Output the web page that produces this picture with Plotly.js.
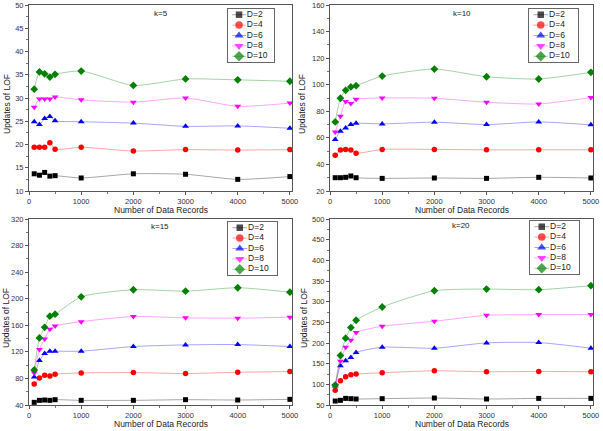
<!DOCTYPE html>
<html>
<head>
<meta charset="utf-8">
<script src="https://cdn.plot.ly/plotly-3.0.1.min.js"></script>
<style>html,body{margin:0;padding:0;background:#fff;}#chart{width:603px;height:431px;}</style>
</head>
<body>
<div id="chart"></div>
<script>
// ---- data ----
const records = [100, 200, 300, 400, 500, 1000, 2000, 3000, 4000, 5000];
const seriesNames = ["D=2", "D=4", "D=6", "D=8", "D=10"];
const panelTitles = ["k=5", "k=10", "k=15", "k=20"];

const k5_D2  = [13.7, 13.4, 14.0, 13.2, 13.3, 12.8, 13.7, 13.6, 12.5, 13.1];
const k5_D4  = [19.4, 19.4, 19.4, 20.4, 19.0, 19.4, 18.6, 18.9, 18.8, 18.9];
const k5_D6  = [24.9, 24.3, 25.6, 26.0, 25.1, 24.9, 24.6, 23.9, 24.0, 23.5];
const k5_D8  = [28.0, 29.8, 29.8, 29.8, 30.2, 29.6, 29.1, 30.0, 28.2, 28.9];
const k5_D10 = [31.9, 35.6, 35.2, 34.5, 35.1, 35.8, 32.7, 34.1, 33.9, 33.6];

const k10_D2  = [30.0, 30.0, 30.3, 31.3, 30.0, 29.5, 29.8, 29.5, 30.3, 29.8];
const k10_D4  = [47.0, 50.8, 51.3, 50.8, 48.5, 51.3, 51.3, 51.0, 51.0, 51.0];
const k10_D6  = [58.8, 65.0, 67.5, 70.0, 71.0, 70.5, 71.8, 70.0, 72.0, 69.8];
const k10_D8  = [64.5, 76.3, 87.3, 85.8, 89.0, 90.0, 89.8, 86.8, 85.5, 90.3];
const k10_D10 = [72.0, 89.8, 95.8, 98.3, 99.3, 106.5, 111.8, 106.0, 104.3, 109.3];

const k15_D2  = [44.0, 47.0, 47.5, 47.0, 48.0, 47.0, 47.0, 48.0, 47.5, 48.5];
const k15_D4  = [71.7, 80.7, 84.7, 83.7, 86.3, 88.3, 88.8, 87.3, 89.3, 90.3];
const k15_D6  = [82.2, 106.9, 117.4, 121.0, 121.0, 121.0, 128.0, 130.5, 131.0, 128.0];
const k15_D8  = [88.3, 123.5, 139.5, 154.0, 159.0, 165.5, 173.2, 171.2, 170.7, 172.2];
const k15_D10 = [92.8, 141.0, 157.0, 173.7, 176.7, 202.9, 213.5, 211.4, 216.5, 209.9];

const k20_D2  = [59.6, 61.3, 66.0, 65.3, 64.5, 65.3, 66.9, 64.5, 66.0, 66.0];
const k20_D4  = [85.4, 108.7, 118.3, 123.2, 124.8, 128.0, 132.8, 130.4, 131.2, 130.4];
const k20_D6  = [95.8, 144.8, 156.9, 164.9, 177.0, 189.8, 187.4, 200.3, 201.1, 187.4];
const k20_D8  = [96.6, 156.0, 189.8, 206.7, 225.2, 240.5, 252.6, 267.0, 268.7, 268.7];
const k20_D10 = [98.2, 169.8, 211.6, 237.3, 255.0, 287.1, 326.5, 330.5, 328.9, 338.6];

const yRanges = [[10, 50], [20, 160], [40, 320], [50, 500]];
const yDticks = [5, 20, 40, 50];

// ---- styles ----
const markerColors = ["#000000", "#ff0000", "#0000ff", "#ff00ff", "#008000"];
const lineColors = ["rgba(0,0,0,0.35)", "rgba(255,0,0,0.35)", "rgba(0,0,255,0.35)", "rgba(255,0,255,0.35)", "rgba(0,128,0,0.35)"];
const symbols = ["square", "circle", "triangle-up", "triangle-down", "diamond"];
const markerSizes = [5, 5.5, 6, 6, 6];
const legendMarkerSizes = [6.5, 7.5, 8, 8, 8];

const panelData = [
  [k5_D2, k5_D4, k5_D6, k5_D8, k5_D10],
  [k10_D2, k10_D4, k10_D6, k10_D8, k10_D10],
  [k15_D2, k15_D4, k15_D6, k15_D8, k15_D10],
  [k20_D2, k20_D4, k20_D6, k20_D8, k20_D10]
];

const W = 603, H = 431;
const px = v => v / W;
const py = v => 1 - v / H;

// plot boxes in pixels [left, right, top, bottom]
const boxes = [[29, 292, 5, 191], [330, 593, 5, 191], [29, 292, 219, 405], [330, 593, 219, 405]];
// legend boxes in pixels [left, right, top, bottom]
const legBoxes = [[228, 274, 9, 62], [529, 578, 9, 62], [228, 277, 222, 275], [530, 579, 221, 274]];
const kPos = [[161, 14], [462, 14], [160, 227], [461, 225]];
const xTitlePos = [[161, 210], [462, 210], [161, 424], [462, 424]];
const yTitlePos = [[7, 104], [302, 104], [6, 318], [304, 318]];

const tickFont = {family: "Liberation Sans, Arial, sans-serif", size: 7.5, color: "#333"};
const titleFont = {family: "Liberation Sans, Arial, sans-serif", size: 8.5, color: "#222"};

const traces = [];
const layout = {
  width: W, height: H,
  margin: {l: 0, r: 0, t: 0, b: 0},
  paper_bgcolor: "#fff", plot_bgcolor: "#fff",
  showlegend: false,
  annotations: [],
  font: {family: "Liberation Sans, Arial, sans-serif"}
};

for (let p = 0; p < 4; p++) {
  const ax = p + 1;
  const xa = "x" + (ax === 1 ? "" : ax), ya = "y" + (ax === 1 ? "" : ax);
  const b = boxes[p];
  layout["xaxis" + (ax === 1 ? "" : ax)] = {
    domain: [px(b[0]), px(b[1])], anchor: ya,
    range: [0, 5040], tickvals: [0, 1000, 2000, 3000, 4000, 5000],
    ticks: "outside", ticklen: 3, tickcolor: "#555", tickwidth: 1,
    minor: {dtick: 500, tick0: 0, ticks: "outside", ticklen: 2, tickcolor: "#777"},
    showgrid: false, zeroline: false, showline: true, mirror: true,
    linecolor: "#555", linewidth: 1, tickfont: tickFont, fixedrange: true
  };
  layout["yaxis" + (ax === 1 ? "" : ax)] = {
    domain: [py(b[3]), py(b[2])], anchor: xa,
    range: yRanges[p], dtick: yDticks[p], tick0: yRanges[p][0],
    ticks: "outside", ticklen: 3, tickcolor: "#555", tickwidth: 1,
    minor: {dtick: yDticks[p] / 2, ticks: "outside", ticklen: 2, tickcolor: "#777"},
    showgrid: false, zeroline: false, showline: true, mirror: true,
    linecolor: "#555", linewidth: 1, tickfont: tickFont, fixedrange: true
  };
  for (let s = 0; s < 5; s++) {
    traces.push({
      type: "scatter", mode: "lines+markers",
      x: records, y: panelData[p][s], name: seriesNames[s],
      xaxis: xa, yaxis: ya,
      line: {color: lineColors[s], width: 1, shape: "spline", smoothing: 0.6},
      marker: {symbol: symbols[s], size: markerSizes[s], color: markerColors[s], line: {width: 0}}
    });
  }
  // custom legend on its own axes
  const lx = p + 5;
  const lb = legBoxes[p];
  layout["xaxis" + lx] = {
    domain: [px(lb[0]), px(lb[1])], anchor: "y" + lx, range: [0, 1],
    showline: true, mirror: true, linecolor: "#666", linewidth: 1,
    showticklabels: false, ticks: "", showgrid: false, zeroline: false, fixedrange: true
  };
  layout["yaxis" + lx] = {
    domain: [py(lb[3]), py(lb[2])], anchor: "x" + lx, range: [4.55, -0.55],
    showline: true, mirror: true, linecolor: "#666", linewidth: 1,
    showticklabels: false, ticks: "", showgrid: false, zeroline: false, fixedrange: true
  };
  const sampleX = [0.09, 0.24, 0.39];
  for (let s = 0; s < 5; s++) {
    traces.push({
      type: "scatter", mode: "lines+markers", hoverinfo: "skip",
      x: sampleX, y: [s, s, s], xaxis: "x" + lx, yaxis: "y" + lx,
      line: {color: lineColors[s], width: 1},
      marker: {symbol: symbols[s], size: [0, legendMarkerSizes[s], 0], color: markerColors[s], line: {width: 0}}
    });
  }
  traces.push({
    type: "scatter", mode: "text", hoverinfo: "skip",
    x: seriesNames.map(() => 0.41), y: seriesNames.map((_, i) => i),
    text: seriesNames, textposition: "middle right",
    textfont: {family: "Liberation Sans, Arial, sans-serif", size: 8.5, color: "#222"},
    xaxis: "x" + lx, yaxis: "y" + lx, cliponaxis: false
  });

  layout.annotations.push({
    text: panelTitles[p], xref: "paper", yref: "paper",
    x: px(kPos[p][0]), y: py(kPos[p][1]), xanchor: "center", yanchor: "middle",
    showarrow: false, font: {family: "Liberation Sans, Arial, sans-serif", size: 8, color: "#222"}
  });
  layout.annotations.push({
    text: "Number of Data Records", xref: "paper", yref: "paper",
    x: px(xTitlePos[p][0]), y: py(xTitlePos[p][1]), xanchor: "center", yanchor: "middle",
    showarrow: false, font: titleFont
  });
  layout.annotations.push({
    text: "Updates of LOF", xref: "paper", yref: "paper", textangle: -90,
    x: px(yTitlePos[p][0]), y: py(yTitlePos[p][1]), xanchor: "center", yanchor: "middle",
    showarrow: false, font: titleFont
  });
}

Plotly.newPlot("chart", traces, layout, {staticPlot: true, displayModeBar: false});
</script>
</body>
</html>
